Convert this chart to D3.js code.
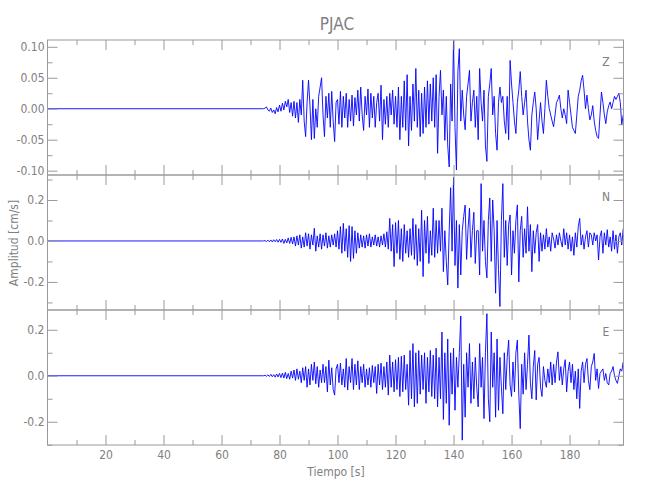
<!DOCTYPE html>
<html><head><meta charset="utf-8">
<script src="https://cdn.jsdelivr.net/npm/d3@7"></script>
<style>
body{margin:0;background:#fff}
text{font-family:"Liberation Sans Narrow","DejaVu Sans Condensed","Liberation Sans",sans-serif;fill:#808080}
</style>
</head><body>
<svg id="c" width="650" height="500"></svg>
<script>
// ---------------- data ----------------
const title = "PJAC";
const xLabel = "Tiempo [s]";
const yLabel = "Amplitud [cm/s]";
const components = ["Z", "N", "E"];
const xDomain = [0, 198.6];
const xMajorTicks = [20, 40, 60, 80, 100, 120, 140, 160, 180];
const xMinorTicks = [10, 30, 50, 70, 90, 110, 130, 150, 170, 190];
const xTickLabels = ["20", "40", "60", "80", "100", "120", "140", "160", "180"];

const zDomain = [-0.107, 0.111];
const zMajorTicks = [-0.10, -0.05, 0, 0.05, 0.10];
const zMinorTicks = [-0.075, -0.025, 0.025, 0.075];
const zTickLabels = ["-0.10", "-0.05", "0.00", "0.05", "0.10"];
const nDomain = [-0.337, 0.322];
const nMajorTicks = [-0.2, 0, 0.2];
const nMinorTicks = [-0.3, -0.1, 0.1, 0.3];
const nTickLabels = ["-0.2", "0.0", "0.2"];
const eDomain = [-0.301, 0.286];
const eMajorTicks = [-0.2, 0, 0.2];
const eMinorTicks = [-0.3, -0.1, 0.1];
const eTickLabels = ["-0.2", "0.0", "0.2"];

// quiet (pre-event) segment: times and values
const quietTimes = [0, 74.5];
const quietZ = [0, 0];
const quietN = [0, 0];
const quietE = [0, 0];

// active segment: sampled from 75 s every 0.5 s
const activeStart = 75;
const activeStep = 0.5;
const zValues = [
 0.001,0.003,-0.002,-0.004,0.001,-0.006,-0.002,-0.008,0.002,-0.005,
 0.006,-0.004,0.009,-0.002,0.012,0.003,0.015,-0.006,0.010,-0.012,
 0.012,-0.015,0.01,-0.022,0.015,-0.01,0.046,-0.02,-0.045,0.01,
 0.046,0.005,-0.05,0.015,-0.048,0.0,-0.03,0.02,0.035,0.05,
 -0.01,-0.045,0.02,-0.015,0.025,-0.03,0.028,-0.02,-0.053,0.01,
 0.015,-0.025,0.028,-0.03,0.02,-0.015,0.025,-0.03,0.015,-0.02,
 0.022,-0.028,0.018,-0.01,0.03,-0.02,0.035,-0.01,-0.035,0.02,
 -0.01,0.032,-0.03,0.025,-0.015,0.02,-0.03,0.01,0.025,-0.02,
 0.038,-0.05,0.015,-0.025,0.02,-0.03,0.025,-0.01,0.03,-0.025,
 0.02,-0.03,0.035,-0.05,0.02,-0.03,0.045,-0.035,0.055,-0.06,
 0.02,-0.035,0.04,-0.02,0.065,-0.03,0.03,-0.045,0.025,-0.04,
 0.035,-0.03,0.045,-0.025,0.04,-0.02,0.05,-0.03,0.055,-0.072,
 0.02,0.062,-0.01,0.03,-0.051,0.02,-0.06,-0.094,0.04,-0.02,
 0.11,-0.03,-0.099,0.06,0.097,-0.02,0.03,-0.01,-0.034,0.02,
 0.04,0.062,-0.02,0.01,0.03,-0.03,0.02,-0.05,0.065,0.01,
 -0.02,0.03,-0.06,-0.085,0.02,0.04,0.065,-0.01,0.02,-0.04,
 -0.067,0.01,0.035,0.01,0.02,-0.02,-0.04,0.02,-0.05,0.078,
 0.04,0.01,-0.02,-0.04,0.01,0.03,0.06,0.02,-0.01,0.01,
 0.03,-0.02,-0.05,-0.067,-0.01,0.01,0.027,0.0,-0.05,-0.02,
 0.01,-0.02,-0.04,0.0,0.046,0.02,0.0,-0.01,-0.02,-0.029,
 -0.01,0.01,0.015,0.022,0.0,-0.015,0.0,-0.01,-0.024,0.03,
 0.01,-0.01,-0.03,-0.035,-0.04,-0.01,0.02,0.03,0.045,0.054,
 0.03,0.0,0.022,0.0,-0.018,-0.01,0.005,-0.02,-0.035,-0.045,
 -0.048,-0.01,0.027,0.01,-0.01,-0.024,-0.005,0.005,0.011,0.0,
 0.01,0.02,0.015,0.02,0.025,0.01,-0.026,-0.01
];
const nValues = [
 0.002,-0.003,0.004,-0.004,0.005,-0.005,0.006,-0.004,0.007,-0.006,
 0.008,-0.007,0.01,-0.012,0.008,-0.01,0.015,-0.012,0.018,-0.015,
 0.02,-0.025,0.025,-0.02,0.03,-0.035,0.02,-0.03,0.04,-0.025,
 0.035,-0.04,0.03,-0.02,0.062,-0.05,0.025,-0.03,0.035,-0.04,
 0.03,-0.025,0.04,-0.035,0.025,-0.03,0.03,-0.02,0.035,-0.03,
 0.05,-0.04,0.07,-0.06,0.086,-0.05,0.06,-0.08,0.075,-0.1,
 0.07,-0.085,0.05,-0.06,0.04,-0.035,0.03,-0.03,0.025,-0.035,
 0.03,-0.025,0.035,-0.03,0.02,-0.02,0.03,-0.025,0.02,-0.03,
 0.025,-0.02,0.035,-0.03,0.045,-0.04,0.11,-0.05,0.08,-0.125,
 0.09,-0.06,0.1,-0.09,0.06,-0.1,0.08,-0.06,0.05,-0.08,
 0.06,-0.07,0.11,-0.09,0.08,-0.12,0.06,-0.1,0.15,-0.174,
 0.1,-0.06,0.12,-0.11,0.05,-0.07,0.16,-0.08,0.1,-0.06,
 0.1,-0.05,0.16,-0.15,0.05,-0.1,-0.215,0.05,0.26,-0.05,
 0.31,-0.12,0.1,-0.23,0.08,-0.166,0.05,0.12,0.175,-0.09,
 0.06,0.16,-0.08,0.05,0.14,-0.11,0.05,0.05,-0.166,0.28,
 -0.05,0.1,-0.1,-0.18,0.1,0.21,-0.1,0.2,0.05,-0.255,
 0.1,-0.14,-0.32,0.1,0.28,-0.08,0.1,-0.12,0.08,0.127,
 -0.166,0.05,-0.06,0.1,0.176,-0.2,0.05,0.12,-0.08,0.06,
 -0.06,0.167,-0.05,0.08,-0.15,0.05,-0.06,0.04,0.08,-0.1,
 0.04,-0.05,0.03,-0.04,0.06,-0.03,0.02,-0.05,0.04,0.01,
 -0.035,0.03,-0.02,0.04,0.0,-0.03,0.06,-0.02,0.04,-0.04,
 0.03,-0.05,0.02,-0.07,0.04,-0.03,0.07,0.11,-0.02,0.03,
 -0.04,0.02,0.05,-0.03,0.04,0.03,-0.02,0.04,0.0,0.03,
 -0.093,0.02,0.05,-0.06,0.04,-0.02,0.055,-0.03,0.02,-0.05,
 0.05,-0.04,0.03,-0.06,0.02,0.04,-0.02,0.06
];
const eValues = [
 0.002,-0.002,0.004,-0.003,0.006,-0.004,0.005,-0.006,0.008,-0.005,
 0.01,-0.008,0.012,-0.01,0.015,-0.012,0.01,-0.015,0.02,-0.01,
 0.025,-0.02,0.03,-0.015,0.02,-0.03,0.035,-0.02,0.04,-0.05,
 0.03,-0.04,0.05,-0.02,0.06,-0.035,0.04,-0.05,0.025,-0.03,
 0.05,-0.03,0.04,-0.07,0.068,-0.04,0.035,-0.06,-0.084,0.03,
 0.05,-0.03,0.055,-0.04,0.03,-0.05,0.075,-0.062,0.04,-0.03,
 0.075,-0.06,0.05,-0.04,0.065,-0.06,0.04,-0.03,0.05,-0.05,
 0.03,-0.04,0.035,-0.05,0.045,-0.03,0.04,-0.077,0.05,-0.04,
 0.055,-0.06,0.04,-0.05,0.06,-0.084,0.09,-0.05,0.06,-0.07,
 0.07,-0.06,0.08,-0.09,0.085,-0.07,0.09,-0.06,0.05,-0.128,
 0.11,-0.1,0.14,-0.135,0.1,-0.12,0.11,-0.08,0.09,-0.06,
 0.1,-0.12,0.08,-0.07,0.11,-0.09,0.09,-0.1,0.12,-0.135,
 0.08,-0.1,0.19,-0.19,0.1,-0.12,0.16,-0.215,0.1,-0.08,
 0.12,-0.15,0.08,-0.05,0.1,0.26,-0.28,0.05,-0.18,0.1,
 -0.05,0.14,-0.12,0.06,-0.1,0.08,-0.05,-0.135,0.14,-0.05,
 0.08,-0.186,0.1,0.27,-0.1,-0.2,0.19,-0.05,0.1,-0.18,
 0.16,-0.15,0.08,-0.05,-0.165,0.1,-0.06,0.08,0.155,-0.04,
 -0.09,0.06,-0.07,0.1,0.155,-0.08,-0.23,0.05,-0.08,0.1,
 -0.06,0.05,0.177,-0.03,-0.1,0.04,0.11,-0.105,0.05,0.08,
 -0.05,-0.09,0.04,-0.02,-0.05,0.03,-0.03,0.06,-0.04,0.05,
 -0.03,0.06,0.104,-0.02,0.04,-0.04,0.03,0.07,-0.07,0.02,
 0.06,-0.03,0.05,-0.06,0.02,-0.1,0.03,-0.142,0.02,0.06,
 -0.03,0.05,0.075,-0.02,-0.06,0.04,0.06,0.097,-0.02,0.03,
 -0.055,0.01,0.02,0.03,-0.02,0.01,-0.03,-0.04,0.01,0.02,
 0.04,0.0,-0.02,-0.033,0.0,0.03,0.02,0.06
];

// ---------------- drawing ----------------
const svg = d3.select("#c");
svg.append("rect").attr("width", 650).attr("height", 500).attr("fill", "#fff");

const left = 47.5, right = 623.5;
const panelTops = [40, 175, 310];
const panelH = 135;
const axisColor = "#9a9a9a";
const lineColor = "#0000ff";

const x = d3.scaleLinear().domain(xDomain).range([left, right]);

const panels = [
  {name: components[0], quiet: quietZ, vals: zValues, dom: zDomain, maj: zMajorTicks, min: zMinorTicks, lab: zTickLabels},
  {name: components[1], quiet: quietN, vals: nValues, dom: nDomain, maj: nMajorTicks, min: nMinorTicks, lab: nTickLabels},
  {name: components[2], quiet: quietE, vals: eValues, dom: eDomain, maj: eMajorTicks, min: eMinorTicks, lab: eTickLabels}
];

function styleAxis(g) {
  g.select(".domain").remove();
  g.selectAll(".tick line").attr("stroke", axisColor).attr("stroke-width", 1);
  g.selectAll(".tick text").attr("fill", "#808080").style("font-size", "12px");
}

panels.forEach((p, i) => {
  const top = panelTops[i], bottom = top + panelH;
  const y = d3.scaleLinear().domain(p.dom).range([bottom, top]);
  const data = [];
  quietTimes.forEach((t, k) => data.push([t, p.quiet[k]]));
  p.vals.forEach((v, k) => data.push([activeStart + k * activeStep, v]));

  const clipId = "clip" + i;
  svg.append("clipPath").attr("id", clipId).append("rect")
    .attr("x", left).attr("y", top).attr("width", right - left).attr("height", panelH);

  svg.append("path").datum(data)
    .attr("clip-path", `url(#${clipId})`)
    .attr("fill", "none").attr("stroke", lineColor).attr("stroke-width", 0.9)
    .attr("d", d3.line().x(d => x(d[0])).y(d => y(d[1])));

  // y axes (left, right) major + minor, ticks pointing inward
  const showLabels = (d, k) => p.lab[k];
  svg.append("g").attr("transform", `translate(${left},0)`)
    .call(d3.axisLeft(y).tickValues(p.maj).tickSize(-10).tickPadding(3).tickFormat(showLabels)).call(styleAxis);
  svg.append("g").attr("transform", `translate(${left},0)`)
    .call(d3.axisLeft(y).tickValues(p.min).tickSize(-5).tickFormat("")).call(styleAxis);
  svg.append("g").attr("transform", `translate(${right},0)`)
    .call(d3.axisRight(y).tickValues(p.maj).tickSize(-10).tickFormat("")).call(styleAxis);
  svg.append("g").attr("transform", `translate(${right},0)`)
    .call(d3.axisRight(y).tickValues(p.min).tickSize(-5).tickFormat("")).call(styleAxis);

  // x axes (top, bottom)
  svg.append("g").attr("transform", `translate(0,${top})`)
    .call(d3.axisTop(x).tickValues(xMajorTicks).tickSize(-10).tickFormat("")).call(styleAxis);
  svg.append("g").attr("transform", `translate(0,${top})`)
    .call(d3.axisTop(x).tickValues(xMinorTicks).tickSize(-5).tickFormat("")).call(styleAxis);
  const isLast = i === panels.length - 1;
  svg.append("g").attr("transform", `translate(0,${bottom})`)
    .call(d3.axisBottom(x).tickValues(xMajorTicks).tickSize(-10).tickPadding(5)
      .tickFormat(isLast ? ((d, k) => xTickLabels[k]) : "")).call(styleAxis);
  svg.append("g").attr("transform", `translate(0,${bottom})`)
    .call(d3.axisBottom(x).tickValues(xMinorTicks).tickSize(-5).tickFormat("")).call(styleAxis);

  // frame
  svg.append("rect").attr("x", left).attr("y", top).attr("width", right - left).attr("height", panelH)
    .attr("fill", "none").attr("stroke", axisColor).attr("stroke-width", 1);

  // component label
  svg.append("text").attr("x", 606).attr("y", top + 26).attr("text-anchor", "middle")
    .style("font-size", "12px").text(p.name);
});

svg.append("text").attr("x", 337).attr("y", 30).attr("text-anchor", "middle")
  .style("font-size", "17px").text(title);
svg.append("text").attr("x", 336).attr("y", 476).attr("text-anchor", "middle")
  .style("font-size", "12px").text(xLabel);
svg.append("text").attr("transform", "translate(18,243) rotate(-90)").attr("text-anchor", "middle")
  .style("font-size", "12px").text(yLabel);
</script>
</body></html>
